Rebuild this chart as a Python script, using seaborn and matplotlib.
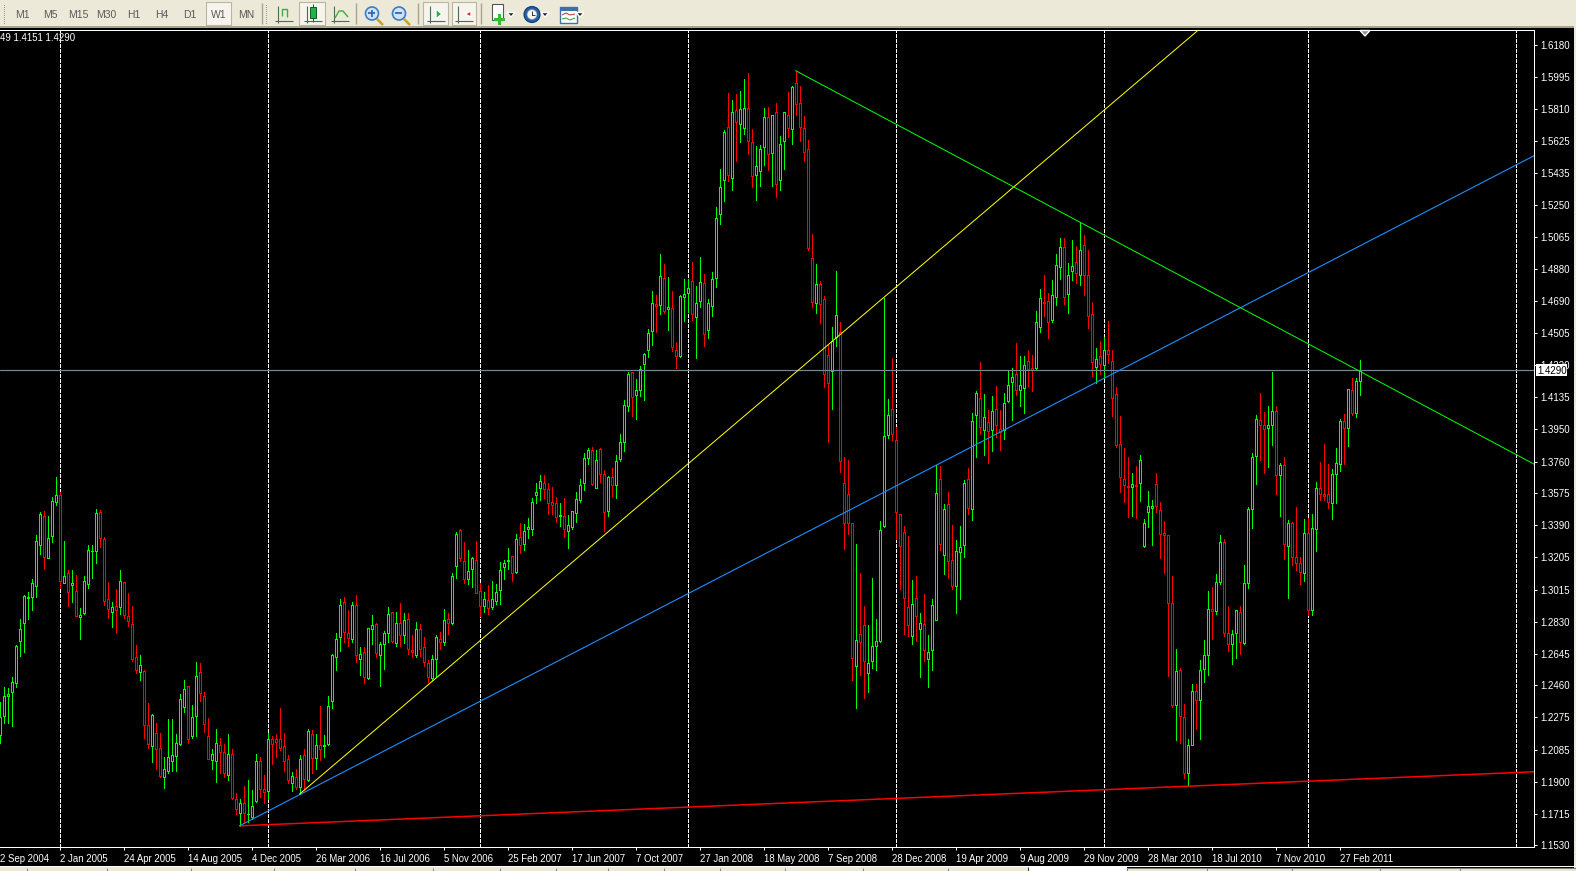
#!/usr/bin/env python3
import matplotlib

matplotlib.use("Agg")

import matplotlib.pyplot as plt
from matplotlib.patches import Circle, Polygon, Rectangle
import numpy as np
import pandas as pd
import seaborn as sns

# weekly bars, prices in points (1/10000)
highs = [
    12364, 12448, 12442, 12506, 12694, 12843, 12984, 13004, 13075, 13333,
    13469, 13472, 13443, 13556, 13672, 13585, 13298, 13130, 13130, 13101,
    12907, 13095, 13275, 13275, 13482, 13478, 13319, 13060, 12942, 13019,
    13130, 13062, 12994, 12920, 12694, 12636, 12548, 12355, 12291, 12244,
    12186, 12045, 12262, 12262, 12180, 12409, 12490, 12457, 12345, 12595,
    12587, 12419, 12273, 12093, 12209, 12155, 12122, 12177, 12093, 11832,
    11797, 11874, 11909, 11855, 12064, 12041, 11938, 12184, 12165, 12177,
    12330, 12186, 12055, 11958, 11977, 12055, 12093, 12209, 12200, 12180,
    12339, 12171, 12397, 12645, 12765, 12959, 12971, 12897, 12942, 12984,
    12680, 12680, 12796, 12868, 12820, 12713, 12775, 12916, 12887, 12887,
    12941, 12883, 12878, 12755, 12829, 12819, 12742, 12606, 12639, 12750,
    12769, 12903, 12878, 13110, 13352, 13366, 13290, 13246, 13203, 13298,
    13052, 13000, 13042, 13065, 13048, 13174, 13187, 13259, 13211, 13339,
    13406, 13400, 13435, 13551, 13633, 13681, 13681, 13633, 13613, 13555,
    13517, 13551, 13449, 13472, 13584, 13656, 13807, 13840, 13846, 13826,
    13836, 13710, 13679, 13720, 13797, 13923, 14117, 14282, 14280, 14239,
    14317, 14388, 14530, 14750, 14727, 14965, 14907, 14834, 14750, 14456,
    14727, 14818, 14818, 14919, 14779, 14948, 14847, 14702, 14861, 15239,
    15460, 15686, 15903, 15859, 15895, 15911, 15983, 16016, 15690, 15593,
    15599, 15814, 15820, 15771, 15843, 15651, 15789, 15907, 15942, 16031,
    15942, 15768, 15628, 15082, 14908, 14809, 14722, 14437, 14539, 14867,
    14568, 13784, 13768, 13406, 13284, 13115, 12922, 12813, 13081, 12848,
    13414, 14712, 14123, 14359, 13962, 13458, 13385, 13327, 13071, 13094,
    12883, 12990, 12755, 12960, 13739, 13733, 13516, 13582, 13391, 13303,
    13385, 13652, 13724, 14045, 14171, 14338, 14152, 14059, 14140, 14198,
    14059, 14161, 14291, 14301, 14446, 14373, 14373, 14407, 14378, 14634,
    14762, 14844, 14737, 14815, 14964, 15057, 15057, 14911, 15045, 15012,
    15152, 15076, 14989, 14688, 14421, 14460, 14485, 14576, 14407, 14191,
    14024, 13836, 13784, 13691, 13734, 13796, 13424, 13589, 13536, 13691,
    13523, 13414, 13331, 13095, 12670, 12558, 12351, 12151, 12465, 12465,
    12610, 12723, 13007, 13029, 13106, 13331, 13308, 12920, 12781, 12895,
    12920, 13159, 13494, 13809, 14030, 14156, 14046, 14082, 14278, 14082,
    13749, 13784, 13418, 13410, 13494, 13203, 13424, 13434, 13455, 13639,
    13755, 13862, 13744, 13714, 13836, 14005, 14036, 14179, 14245, 14243, 14350,
]
lows = [
    12126, 12239, 12242, 12225, 12452, 12632, 12655, 12845, 12897, 12975,
    13223, 13135, 13197, 13294, 13507, 13023, 13052, 12922, 12946, 12864,
    12729, 12874, 13027, 13085, 13172, 13261, 12926, 12853, 12798, 12765,
    12874, 12849, 12806, 12603, 12533, 12490, 12155, 12099, 12016, 11977,
    11929, 11865, 11952, 11964, 11964, 12113, 12306, 12126, 12155, 12167,
    12368, 12190, 12031, 11973, 11900, 11948, 11929, 11913, 11797, 11710,
    11644, 11661, 11667, 11681, 11783, 11809, 11778, 11797, 12006, 12045,
    12087, 11962, 11890, 11847, 11857, 11828, 11851, 11905, 11948, 11977,
    12029, 12045, 12113, 12330, 12548, 12659, 12713, 12690, 12713, 12597,
    12523, 12475, 12496, 12700, 12622, 12455, 12554, 12713, 12713, 12688,
    12690, 12707, 12645, 12626, 12626, 12633, 12571, 12480, 12490, 12513,
    12670, 12694, 12757, 12819, 13081, 13184, 13052, 13048, 13029, 12994,
    12862, 12889, 12874, 12901, 12932, 12932, 13077, 13135, 13065, 13110,
    13226, 13245, 13317, 13333, 13517, 13536, 13546, 13458, 13458, 13410,
    13385, 13319, 13259, 13371, 13410, 13526, 13594, 13745, 13623, 13608,
    13642, 13356, 13443, 13559, 13549, 13764, 13823, 14055, 14026, 14007,
    14142, 14117, 14369, 14437, 14514, 14617, 14621, 14524, 14402, 14305,
    14369, 14576, 14630, 14582, 14363, 14659, 14433, 14479, 14605, 14774,
    15142, 15274, 15390, 15338, 15506, 15617, 15663, 15549, 15355, 15279,
    15361, 15483, 15454, 15361, 15297, 15338, 15460, 15644, 15607, 15773,
    15622, 15506, 14991, 14656, 14625, 14567, 14195, 13875, 14065, 14433,
    13700, 13251, 13338, 12494, 12331, 12519, 12387, 12422, 12562, 12552,
    12713, 13381, 13898, 13888, 13309, 13022, 12761, 12745, 12703, 12718,
    12509, 12602, 12451, 12552, 12838, 13249, 13106, 13084, 13017, 12881,
    12964, 13207, 13458, 13420, 13788, 13923, 13797, 13749, 13822, 13904,
    13826, 13890, 14107, 14001, 14146, 14084, 14043, 14198, 14171, 14295,
    14514, 14607, 14479, 14572, 14669, 14820, 14675, 14625, 14815, 14799,
    14786, 14727, 14536, 14256, 14218, 14268, 14243, 14330, 14026, 13846,
    13585, 13527, 13439, 13443, 13434, 13530, 13263, 13379, 13275, 13468,
    13201, 13110, 12515, 12335, 12142, 12128, 11923, 11874, 12113, 12206,
    12147, 12481, 12519, 12729, 12874, 13046, 12748, 12659, 12583, 12620,
    12641, 12701, 13023, 13375, 13629, 13769, 13695, 13726, 13856, 13571,
    13443, 13193, 12969, 13159, 13133, 13048, 13066, 12868, 12868, 13240,
    13536, 13536, 13492, 13426, 13521, 13707, 13745, 13850, 14030, 14021, 14146,
]
opens = [
    12171, 12281, 12397, 12419, 12475, 12719, 12820, 12969, 12971, 13040,
    13277, 13441, 13197, 13329, 13527, 13565, 13056, 13110, 13044, 13011,
    12855, 12880, 13050, 13238, 13238, 13467, 13310, 12959, 12884, 12922,
    12916, 13060, 12860, 12814, 12622, 12539, 12543, 12227, 12109, 12186,
    12099, 11929, 11964, 12022, 12051, 12120, 12335, 12454, 12165, 12283,
    12535, 12401, 12163, 12025, 12022, 12116, 12074, 11940, 12064, 11801,
    11719, 11779, 11710, 11696, 11787, 12022, 11859, 11847, 12146, 12151,
    12146, 12105, 12035, 11894, 11925, 11867, 12053, 11911, 12175, 12039,
    12116, 12107, 12118, 12370, 12626, 12742, 12946, 12762, 12731, 12924,
    12616, 12651, 12504, 12785, 12814, 12638, 12703, 12767, 12884, 12707,
    12825, 12755, 12843, 12668, 12637, 12790, 12680, 12587, 12500, 12616,
    12732, 12713, 12848, 12823, 13155, 13360, 13182, 13079, 13137, 13186,
    13011, 12920, 12953, 12916, 12951, 13015, 13147, 13184, 13209, 13116,
    13319, 13284, 13369, 13369, 13563, 13604, 13633, 13598, 13528, 13518,
    13443, 13441, 13358, 13377, 13462, 13536, 13633, 13778, 13828, 13608,
    13834, 13685, 13472, 13673, 13625, 13776, 13871, 14084, 14278, 14148,
    14173, 14328, 14411, 14516, 14673, 14667, 14824, 14648, 14650, 14406,
    14371, 14717, 14741, 14807, 14597, 14690, 14795, 14522, 14665, 14828,
    15200, 15394, 15702, 15409, 15801, 15723, 15700, 15812, 15615, 15427,
    15450, 15589, 15760, 15555, 15789, 15398, 15624, 15771, 15690, 15957,
    15841, 15696, 15574, 14940, 14683, 14791, 14702, 14377, 14285, 14485,
    14514, 13633, 13569, 13406, 12573, 12761, 12813, 12532, 12602, 12689,
    12718, 13387, 13914, 14068, 13883, 13456, 13348, 12918, 12749, 12970,
    12790, 12819, 12616, 12668, 12842, 13656, 13218, 13511, 13191, 13040,
    13236, 13278, 13656, 13482, 14028, 14127, 13941, 13987, 13946, 14063,
    13952, 13946, 14113, 14223, 14266, 14177, 14185, 14342, 14303, 14301,
    14543, 14689, 14694, 14582, 14714, 14888, 15004, 14731, 14869, 14917,
    14844, 15018, 14844, 14617, 14311, 14373, 14322, 14411, 14347, 14150,
    13860, 13656, 13616, 13610, 13623, 13637, 13269, 13468, 13488, 13627,
    13476, 13343, 13331, 12936, 12347, 12548, 12279, 11948, 12114, 12430,
    12376, 12556, 12639, 12901, 12893, 13062, 13290, 12765, 12703, 12767,
    12889, 12707, 13052, 13482, 13790, 13999, 13970, 13953, 13970, 14051,
    13680, 13738, 13271, 13406, 13203, 13168, 13110, 13343, 12895, 13370,
    13604, 13573, 13569, 13521, 13685, 13744, 13993, 13953, 14174, 14040, 14230,
]
closes = [
    12277, 12399, 12409, 12477, 12688, 12785, 12978, 12975, 13052, 13296,
    13455, 13207, 13314, 13529, 13565, 13068, 13095, 13004, 13056, 12864,
    12866, 13064, 13246, 13242, 13459, 13317, 12951, 12905, 12916, 12897,
    13064, 12868, 12835, 12614, 12548, 12581, 12231, 12118, 12287, 12091,
    11933, 11977, 12041, 12058, 12124, 12378, 12436, 12151, 12279, 12517,
    12417, 12237, 12031, 12064, 12128, 12074, 11952, 12064, 11805, 11739,
    11774, 11719, 11712, 11760, 12018, 11859, 11838, 12146, 12117, 12132,
    12099, 12022, 11909, 11931, 11871, 12035, 11915, 12192, 12039, 12116,
    12091, 12111, 12339, 12634, 12727, 12924, 12769, 12736, 12924, 12636,
    12645, 12510, 12791, 12808, 12649, 12698, 12762, 12872, 12717, 12825,
    12755, 12837, 12672, 12653, 12785, 12672, 12597, 12509, 12616, 12740,
    12713, 12837, 12823, 13093, 13337, 13201, 13079, 13127, 13197, 12998,
    12922, 12959, 12912, 12959, 13003, 13133, 13168, 13191, 13114, 13313,
    13274, 13354, 13377, 13528, 13586, 13650, 13598, 13522, 13505, 13439,
    13447, 13369, 13389, 13470, 13540, 13621, 13778, 13825, 13629, 13772,
    13687, 13468, 13673, 13623, 13766, 13871, 14086, 14266, 14133, 14173,
    14295, 14386, 14504, 14679, 14661, 14836, 14636, 14656, 14427, 14375,
    14719, 14735, 14770, 14619, 14679, 14801, 14502, 14679, 14822, 15173,
    15355, 15673, 15427, 15789, 15735, 15806, 15812, 15624, 15421, 15475,
    15574, 15760, 15549, 15771, 15374, 15603, 15789, 15700, 15934, 15839,
    15706, 15560, 15002, 14685, 14789, 14673, 14266, 14218, 14462, 14609,
    13764, 13404, 13404, 12620, 12726, 12713, 12602, 12587, 12691, 12715,
    13365, 13908, 14028, 13923, 13468, 13267, 12970, 12813, 12935, 12860,
    12825, 12668, 12651, 12929, 13580, 13282, 13482, 13185, 13038, 13238,
    13261, 13633, 13491, 13993, 14156, 13962, 14016, 13935, 14051, 13975,
    13933, 14098, 14202, 14254, 14177, 14202, 14322, 14299, 14293, 14568,
    14708, 14683, 14572, 14725, 14900, 15004, 14714, 14842, 14898, 14857,
    14989, 14844, 14605, 14336, 14353, 14326, 14406, 14382, 14130, 13858,
    13672, 13625, 13610, 13627, 13620, 13767, 13406, 13499, 13499, 13499,
    13341, 13331, 12936, 12345, 12546, 12283, 11948, 12116, 12430, 12376,
    12550, 12639, 12901, 12891, 13058, 13290, 12765, 12703, 12761, 12895,
    12709, 13052, 13484, 13784, 14005, 13970, 13947, 13970, 14051, 13680,
    13738, 13279, 13406, 13203, 13168, 13116, 13343, 12895, 13372, 13604,
    13573, 13561, 13523, 13685, 13749, 13995, 13953, 14179, 14040, 14226, 14290,
]

price_ticks = [
    1.6180, 1.5995, 1.5810, 1.5625, 1.5435, 1.5250, 1.5065, 1.4880, 1.4690,
    1.4505, 1.4320, 1.4135, 1.3950, 1.3760, 1.3575, 1.3390, 1.3205, 1.3015,
    1.2830, 1.2645, 1.2460, 1.2275, 1.2085, 1.1900, 1.1715, 1.1530,
]
date_bars = [15, 31, 47, 63, 79, 95, 111, 127, 143, 159, 175, 191, 207, 223,
             239, 255, 271, 287, 303, 319, 335]
date_labels = [
    "2 Jan 2005", "24 Apr 2005", "14 Aug 2005", "4 Dec 2005", "26 Mar 2006",
    "16 Jul 2006", "5 Nov 2006", "25 Feb 2007", "17 Jun 2007", "7 Oct 2007",
    "27 Jan 2008", "18 May 2008", "7 Sep 2008", "28 Dec 2008", "19 Apr 2009",
    "9 Aug 2009", "29 Nov 2009", "28 Mar 2010", "18 Jul 2010", "7 Nov 2010",
    "27 Feb 2011",
]
first_label = "2 Sep 2004"
separator_bars = [15, 67, 120, 172, 224, 276, 327, 379]
# trend lines hang on two bars each: (column, first bar, second bar)
red_line = ("low", 60, 297)
blue_line = ("low", 60, 274)
yellow_line = (("low", 75), ("high", 221))
green_line = ("high", 199, 270)

timeframes = ["M1", "M5", "M15", "M30", "H1", "H4", "D1", "W1", "MN"]
timeframe_x = [22, 50, 78, 106, 134, 162, 190, 219, 246]

BULL = "#00ff00"
BEAR = "#ff0000"
CHROME = "#ece9d8"
PX = 0.72  # one pixel in points at dpi 100

sns.set_theme(style="dark", rc={"axes.facecolor": "black", "figure.facecolor": "black"})
plt.rcParams["font.family"] = ["Liberation Sans", "DejaVu Sans"]
plt.rcParams["font.size"] = 7

bars = pd.DataFrame({"high": highs, "low": lows, "open": opens, "close": closes}) / 10000
bars["bar"] = np.arange(len(bars))
up = bars[bars["close"] >= bars["open"]]
down = bars[bars["close"] < bars["open"]]

fig = plt.figure(figsize=(15.76, 8.71), dpi=100)
ax = fig.add_axes([0, 1 - 847 / 871, 1534 / 1576, (847 - 30) / 871])
ax.set_xlim(0.125, 383.625)
ax.set_ylim(1.1521, 1.6267)

for frame, color in ((up, BULL), (down, BEAR)):
    ax.vlines(frame["bar"], frame["low"], frame["high"], color=color, lw=PX,
              antialiased=False, zorder=2)
    ax.bar(frame["bar"], frame["close"] - frame["open"], bottom=frame["open"], width=0.5,
           facecolor="black", edgecolor=color, linewidth=PX, antialiased=False, zorder=3)

ax.vlines(separator_bars, 0, 1, transform=ax.get_xaxis_transform(), color="white", lw=PX,
          linestyles=(0, (3, 2)), antialiased=False, zorder=1)
ax.axhline(closes[-1] / 10000, color="#778899", lw=PX * 1.2, zorder=4)


def extended(start, end):
    # straight line through two bars, carried on to the right edge of the chart
    x0, y0 = start
    x1, y1 = end
    right = ax.get_xlim()[1]
    return pd.DataFrame({"x": [x0, right], "y": [y0, y0 + (y1 - y0) / (x1 - x0) * (right - x0)]})


def anchor(column, bar):
    return bar, bars[column].iloc[bar]


lines = [
    (extended(anchor(red_line[0], red_line[1]), anchor(red_line[0], red_line[2])), "#ff0000", 1.5),
    (extended(anchor(blue_line[0], blue_line[1]), anchor(blue_line[0], blue_line[2])), "#1e90ff", 1.1),
    (extended(anchor(*yellow_line[0]), anchor(*yellow_line[1])), "#ffff00", 1),
    (extended(anchor(green_line[0], green_line[1]), anchor(green_line[0], green_line[2])), "#00ff00", 1),
]
for frame, color, width in lines:
    sns.lineplot(data=frame, x="x", y="y", color=color, lw=PX * width, ax=ax, legend=False,
                 estimator=None, sort=False, zorder=5)

ax.set_xlabel("")
ax.set_ylabel("")
ax.grid(False)
ax.yaxis.tick_right()
ax.set_yticks(price_ticks, [f"{v:.4f}" for v in price_ticks])
ax.set_xticks(date_bars, date_labels, ha="left")
ax.tick_params(axis="y", length=2.2, width=PX, color="white", labelcolor="white", pad=2.0,
               labelsize=7, right=True, left=False)
ax.tick_params(axis="x", length=2.2, width=PX, color="white", labelcolor="white", pad=2.6,
               labelsize=6.9, direction="out", bottom=True)
for side, spine in ax.spines.items():
    spine.set_visible(side != "left")
    spine.set_color("white")
    spine.set_linewidth(PX)

# window chrome, drawn in image pixels on a layer over the whole figure
ui = fig.add_axes([0, 0, 1, 1], facecolor="none")
ui.set_xlim(0, 1576)
ui.set_ylim(871, 0)
ui.axis("off")


def rect(x, y, w, h, color, edge="none", lw=0, z=1):
    ui.add_patch(Rectangle((x, y), w, h, facecolor=color, edgecolor=edge, linewidth=lw, zorder=z))


def seg(xs, ys, color="#555555", lw=1.0, z=3):
    ui.plot(xs, ys, color=color, lw=lw, zorder=z, solid_capstyle="butt")


rect(0, 0, 1576, 26.5, CHROME)
rect(0, 26.5, 1576, 1.2, "#a7a38f")
rect(1574, 26, 2, 845, CHROME)
rect(0, 865.5, 1576, 1.2, "white", z=2)
rect(0, 867, 1028, 4, CHROME, z=2)
rect(1028, 866.5, 99, 4.5, "white", z=2)
rect(1127, 867.5, 449, 4, CHROME, z=2)
seg([1028, 1028], [867, 871], "#404040", 0.8)
seg([1127, 1127, 1576], [871, 867.5, 867.5], "#808080", 0.8)
for x in (27, 107, 191, 274, 355, 433, 500, 556, 608, 664, 720, 785, 863, 948):
    seg([x, x], [868, 871], "#808080", 0.7)
for x in (1207, 1292, 1380, 1460):
    seg([x, x], [868, 871], "#808080", 0.7)

rect(206, 2.5, 25.5, 22.5, "#f6f4ec", edge="#b9b5a0", lw=0.8, z=2)
rect(299, 2.5, 26, 22.5, "#f6f4ec", edge="#b9b5a0", lw=0.8, z=2)
rect(423, 2.5, 25, 22.5, "#f6f4ec", edge="#b9b5a0", lw=0.8, z=2)
rect(452, 2.5, 24.5, 22.5, "#f6f4ec", edge="#b9b5a0", lw=0.8, z=2)
for x, name in zip(timeframe_x, timeframes):
    ui.text(x, 14.5, name, ha="center", va="center", color="#5a5a5a", fontsize=7.5, zorder=3)
for x in (4, 266):
    for y in range(5, 24, 2):
        rect(x, y, 1.2, 1.2, "#9c9884", z=2)
for x in (262, 356, 418, 481):
    seg([x, x], [3, 24], "#a7a38f", 1.0)

# chart type and zoom buttons
for x in (284, 313, 340, 436, 464):
    seg([x - 6, x - 6], [6, 23], "#4d6a55", 0.8)
    seg([x - 9, x + 9], [21, 21], "#4d6a55", 0.8)
seg([282, 282, 287, 287], [16, 9, 9, 17], "#3fae3f", 1.0)
rect(310, 7, 6, 11, "#22b14c", edge="#0b5d1e", lw=0.7, z=3)
seg([313, 313], [4, 22], "#0b5d1e", 0.7, 2.5)
seg([335, 339, 343, 348], [18, 11, 11, 17], "#3fae3f", 1.0)
for x, sign in ((372, "+"), (399, "-")):
    seg([x + 5, x + 11], [19, 25], "#c9a227", 1.8)
    ui.add_patch(Circle((x, 13.5), 6.5, facecolor="#cfe2f6", edgecolor="#3b7cc4", lw=1.2, zorder=4))
    seg([x - 3.5, x + 3.5], [13.5, 13.5], "#2a6db5", 1.3, 5)
    if sign == "+":
        seg([x, x], [10, 17], "#2a6db5", 1.3, 5)
ui.add_patch(Polygon([(436, 9), (436, 19), (442, 14)], facecolor="#22b14c", zorder=4))
ui.add_patch(Polygon([(471, 11), (471, 17), (465, 14)], facecolor="#d03030", zorder=4))

# new chart, clock and indicator buttons
rect(492, 4, 11, 16, "white", edge="#555555", lw=0.8, z=3)
rect(498, 14, 3, 11, "#2fbf2f", z=4)
rect(494, 18, 11, 3, "#2fbf2f", z=4)
ui.add_patch(Circle((532, 14.5), 8, facecolor="#1f5fae", edgecolor="#123a70", lw=0.8, zorder=3))
ui.add_patch(Circle((532, 14.5), 5, facecolor="#f4f4f4", edgecolor="#888888", lw=0.5, zorder=4))
seg([532, 532, 535], [11, 15, 15], "#333333", 0.7, 5)
rect(560, 7, 17, 16, "white", edge="#3f6fa8", lw=1.0, z=3)
rect(560, 7, 17, 4, "#3f6fa8", z=4)
seg([562, 566, 570, 575], [15, 13, 15, 14], "#c03030", 0.7, 5)
seg([562, 566, 570, 575], [19, 18, 20, 18], "#2fa02f", 0.7, 5)
for x in (511, 545, 580):
    ui.add_patch(Polygon([(x - 4, 12.5), (x + 4, 12.5), (x, 17)], facecolor="#222222", zorder=4))

ui.text(0, 38, "49 1.4151 1.4290", ha="left", va="center", color="white", fontsize=6.9, zorder=6)
ui.add_patch(Polygon([(1360, 30.5), (1370, 30.5), (1365, 36)], facecolor="#8a96a3", zorder=6))
ui.text(0, 858.8, first_label, ha="left", va="center", color="white", fontsize=6.9, zorder=6)

# price marker on the right scale, covering the tick label behind it
rect(1536, 364.5, 31, 12, "white", z=6)
ui.text(1552, 370.5, f"{closes[-1] / 10000:.4f}", ha="center", va="center", color="black",
        fontsize=7, zorder=7)

fig.savefig("out.png", dpi=100, facecolor="black")
